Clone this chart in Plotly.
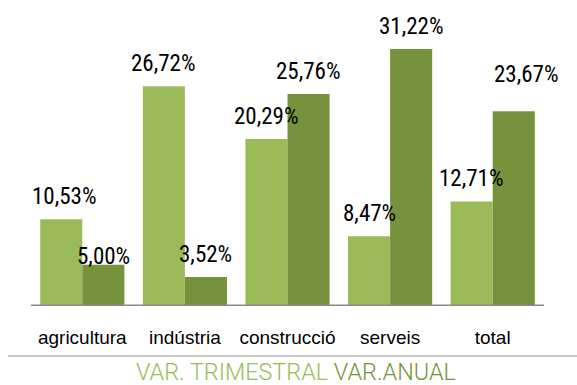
import plotly.graph_objects as go

# Sectors and quarterly / annual variation (%)
categories = ["agricultura", "indústria", "construcció", "serveis", "total"]
var_trimestral = [10.53, 26.72, 20.29, 8.47, 12.71]
var_anual = [5.00, 3.52, 25.76, 31.22, 23.67]
series_names = ["VAR. TRIMESTRAL", "VAR.ANUAL"]

LIGHT = "#9BBB59"
DARK = "#76923C"
COND = "Roboto Condensed, DejaVu Sans Condensed, sans-serif"

W, H = 577, 385
M_L, M_R, M_T, M_B = 31, 33, 18, 79
Y_MAX = 35
BARGAP = 0.18
half = (1 - BARGAP) / 4  # offset of each bar centre from the category centre

def pct(v):
    return f"{v:.2f}".replace(".", ",") + "%"

fig = go.Figure()
fig.add_trace(go.Bar(name=series_names[0], x=list(range(len(categories))), y=var_trimestral,
                     marker=dict(color=LIGHT, line=dict(width=0))))
fig.add_trace(go.Bar(name=series_names[1], x=list(range(len(categories))), y=var_anual,
                     marker=dict(color=DARK, line=dict(width=0))))

# value labels; a couple of them are nudged to avoid crowding
nudge = {(0, 0): (3, 0), (1, 0): (0, -14), (1, 4): (13, 14)}
for s, (vals, sign) in enumerate([(var_trimestral, -1), (var_anual, 1)]):
    for i, v in enumerate(vals):
        dx, dy = nudge.get((s, i), (0, 0))
        fig.add_annotation(x=i + sign * half, y=v, xref="x", yref="y", text=pct(v),
                           showarrow=False, xanchor="center", yanchor="middle",
                           yshift=22.5 + dy, xshift=dx,
                           font=dict(family=COND, size=23, weight=400, color="#000000"))

# baseline under the bars
fig.add_shape(type="line", xref="paper", yref="y", x0=0, x1=1, y0=0, y1=0,
              line=dict(color="#898989", width=3), layer="above")

# thin separator above the series caption
pw = W - M_L - M_R
ph = H - M_T - M_B
sep_y = -(356 - (H - M_B)) / ph
fig.add_shape(type="line", xref="paper", yref="paper",
              x0=(8 - M_L) / pw, x1=(W - M_L) / pw, y0=sep_y, y1=sep_y,
              line=dict(color="#C6C6C6", width=2))

# series caption
cap_y = -(372 - (H - M_B)) / ph
fig.add_annotation(xref="paper", yref="paper", x=(295.5 - M_L) / pw, y=cap_y,
                   xanchor="center", yanchor="middle", showarrow=False,
                   text=f"<span style='color:{LIGHT}'>{series_names[0]}</span> "
                        f"<span style='color:{DARK}'>{series_names[1]}</span>",
                   font=dict(family="Roboto, sans-serif", size=23.4, weight=300))

fig.update_layout(
    width=W, height=H,
    margin=dict(l=M_L, r=M_R, t=M_T, b=M_B, pad=0),
    barmode="group", bargap=BARGAP, bargroupgap=0,
    showlegend=False,
    plot_bgcolor="white", paper_bgcolor="white",
    xaxis=dict(tickmode="array", tickvals=list(range(len(categories))), ticktext=categories,
               range=[-0.5, len(categories) - 0.5], showgrid=False, zeroline=False, showline=False,
               ticks="outside", ticklen=14, tickcolor="rgba(0,0,0,0)",
               tickfont=dict(family="Liberation Sans, Arial, sans-serif", size=19, color="#000000")),
    yaxis=dict(range=[0, Y_MAX], visible=False, showgrid=False, zeroline=False),
)

fig.write_html("out.html")
